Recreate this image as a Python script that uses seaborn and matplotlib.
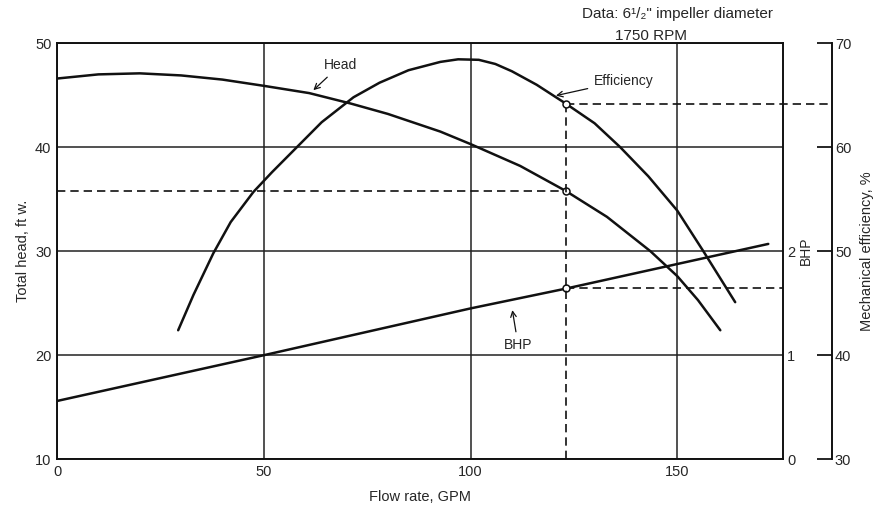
import numpy as np
import pandas as pd
import matplotlib
matplotlib.use("Agg")
import matplotlib.pyplot as plt
import seaborn as sns

###############################################################################
# data
###############################################################################
head_flow = [0, 10, 20, 30, 40, 50, 61, 71, 80, 92.7, 100, 112, 123, 133, 143.5, 150, 155, 160.4]
head_ft = [46.6, 47.0, 47.1, 46.9, 46.5, 45.9, 45.2, 44.2, 43.2, 41.5, 40.3, 38.2, 35.8, 33.3, 30.0, 27.6, 25.3, 22.4]

eff_flow = [29.3, 33, 37.8, 42, 47.5, 52, 58, 64, 71.7, 78, 85, 92.7, 97, 102, 106, 110, 116, 123,
            130, 136.2, 143, 150, 156.3, 164]
eff_pct = [42.4, 45.8, 49.8, 52.8, 55.7, 57.6, 60.0, 62.4, 64.8, 66.2, 67.4, 68.2, 68.45, 68.4,
           68.0, 67.3, 66.0, 64.2, 62.3, 60.0, 57.2, 53.9, 50.0, 45.1]

bhp_flow = [0, 50, 100, 123, 172]
bhp_val = [0.56, 1.0, 1.45, 1.64, 2.07]

op_flow = 123
op_head = 35.8
op_eff = 64.2
op_bhp = 1.65

flow_ticks = [0, 50, 100, 150]
head_ticks = [10, 20, 30, 40, 50]
bhp_ticks = [0, 1, 2]
eff_ticks = [30, 40, 50, 60, 70]

df_head = pd.DataFrame({"flow": head_flow, "val": head_ft})
df_eff = pd.DataFrame({"flow": eff_flow, "val": eff_pct})
df_bhp = pd.DataFrame({"flow": bhp_flow, "val": bhp_val})

###############################################################################
# figure
###############################################################################
sns.set_style("white")
plt.rcParams['font.family'] = ['Liberation Sans', 'DejaVu Sans']
plt.rcParams['font.size'] = 10.5

fig = plt.figure(figsize=(8.77, 5.08), dpi=100)
ax = fig.add_axes([0.065, 0.096, 0.828, 0.819])
ax_bhp = ax.twinx()
ax_eff = ax.twinx()

xmax = 175.6
ax.set_xlim(0, xmax)
ax.set_ylim(10, 50)
ax_bhp.set_ylim(0, 4)
ax_eff.set_ylim(30, 70)

# grid
ax.set_xticks(flow_ticks)
ax.set_yticks(head_ticks)
ax.grid(True, color="#222222", linewidth=1.1)
ax.tick_params(length=0, pad=4, labelsize=10.5)
for s in ax.spines.values():
    s.set_color("#111111")
    s.set_linewidth(1.4)

ax_bhp.set_yticks(bhp_ticks)
ax_bhp.tick_params(length=0, pad=3, labelsize=10.5)
for s in ax_bhp.spines.values():
    s.set_visible(False)

ax_eff.set_yticks(eff_ticks)
ax_eff.spines["right"].set_position(("axes", 1.0675))
for k in ["left", "top", "bottom"]:
    ax_eff.spines[k].set_visible(False)
ax_eff.spines["right"].set_linewidth(1.4)
ax_eff.spines["right"].set_color("#111111")
ax_eff.tick_params(direction="in", length=11, width=1.4, pad=2, labelsize=10.5)

# curves
sns.lineplot(data=df_head, x="flow", y="val", ax=ax, color="#111111", linewidth=1.8, sort=False)
sns.lineplot(data=df_eff, x="flow", y="val", ax=ax_eff, color="#111111", linewidth=1.8, sort=False)
sns.lineplot(data=df_bhp, x="flow", y="val", ax=ax_bhp, color="#111111", linewidth=1.8, sort=False)

# operating point guides
dash = (0, (5, 3))
ax_eff.plot([op_flow, op_flow], [30, op_eff], color="#111111", lw=1.2, ls=dash)
ax_eff.plot([op_flow, xmax * 1.0675], [op_eff, op_eff], color="#111111", lw=1.2, ls=dash, clip_on=False)
ax.plot([0, op_flow], [op_head, op_head], color="#111111", lw=1.2, ls=dash)
ax_bhp.plot([op_flow, xmax], [op_bhp, op_bhp], color="#111111", lw=1.2, ls=dash)

mk = dict(marker="o", ms=5, mfc="white", mec="#111111", mew=1.1, ls="none", zorder=5)
ax.plot([op_flow], [op_head], **mk)
ax_eff.plot([op_flow], [op_eff], **mk)
ax_bhp.plot([op_flow], [op_bhp], **mk)

# labels
ax.set_xlabel("Flow rate, GPM", fontsize=10.5, labelpad=8)
ax.set_ylabel("Total head, ft w.", fontsize=10.5, labelpad=4)
ax_bhp.set_ylabel("")
ax_eff.set_ylabel("Mechanical efficiency, %", fontsize=10.5, labelpad=6)
ax_eff.set_xlabel("")
ax_bhp.set_xlabel("")

ax_bhp.text(1.031, 2.0, "BHP", transform=ax_bhp.get_yaxis_transform(), rotation=90,
            ha="center", va="center", fontsize=10)

arrow = dict(arrowstyle="->", color="#111111", lw=0.9)
ax.annotate("Head", xy=(61.5, 45.3), xytext=(68.5, 47.9), ha="center", va="center",
            fontsize=10, arrowprops=arrow)
ax.annotate("Efficiency", xy=(120, 44.9), xytext=(137, 46.4), ha="center", va="center",
            fontsize=10, arrowprops=arrow)
ax.annotate("BHP", xy=(110, 24.6), xytext=(111.5, 21.0), ha="center", va="center",
            fontsize=10, arrowprops=arrow)

fig.text(0.772, 0.972, "Data: 6\u00b9/\u2082\" impeller diameter", ha="center", va="center", fontsize=11)
fig.text(0.742, 0.93, "1750 RPM", ha="center", va="center", fontsize=11)

fig.savefig("out.png", dpi=100, facecolor="white")
